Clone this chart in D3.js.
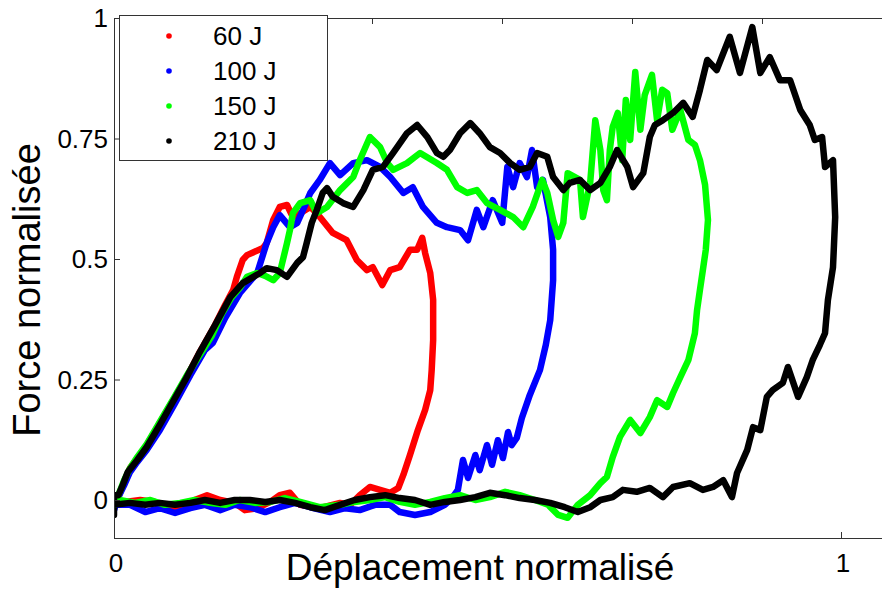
<!DOCTYPE html>
<html>
<head>
<meta charset="utf-8">
<script src="https://cdn.jsdelivr.net/npm/d3@7"></script>
<style>
  body { margin: 0; background: #fff; }
  svg { display: block; }
</style>
</head>
<body>
<div id="chart"></div>
<script>
// energies (legend)
const energies = ["60 J", "100 J", "150 J", "210 J"];
const colors = ["#ff0000", "#0000ff", "#00ff00", "#000000"];

// normalised displacement / force
const dep60 = [0,.006,.014,.022,.032,.045,.063,.084,.098,.118,.139,.153,.164,.169,.177,.183,.205,.210,.219,.228,.238,.246,.256,.270,.279,.301,.320,.334,.348,.356,.369,.380,.393,.407,.417,.424,.428,.435,.439,.439,.437,.435,.428,.418,.407,.398,.391,.380,.366,.352,.338,.325,.311,.283,.256,.242,.228,.215,.197,.180,.166,.146,.128,.111,.091,.070,.056,.036,.015,0];
const force60 = [-.010,.006,.037,.066,.087,.114,.160,.214,.249,.307,.363,.405,.436,.463,.498,.508,.523,.533,.581,.608,.612,.587,.595,.608,.595,.554,.539,.498,.477,.483,.446,.477,.483,.519,.519,.544,.512,.471,.415,.332,.270,.228,.187,.145,.093,.052,.025,.015,.021,.027,.010,-.010,-.006,-.017,-.010,.015,.010,-.004,-.017,-.021,-.006,0,.010,0,-.017,-.015,-.004,0,-.004,0];

const dep100 = [0,.006,.014,.022,.032,.045,.063,.084,.105,.125,.136,.153,.173,.197,.210,.219,.228,.242,.252,.260,.270,.283,.297,.311,.329,.348,.366,.380,.398,.411,.425,.444,.458,.476,.487,.499,.508,.521,.534,.541,.549,.558,.568,.575,.582,.590,.600,.604,.604,.600,.594,.586,.572,.561,.554,.547,.542,.535,.528,.520,.513,.503,.497,.487,.480,.473,.465,.455,.435,.414,.393,.380,.359,.338,.318,.297,.270,.249,.228,.208,.187,.166,.146,.125,.105,.084,.063,.043,.022,0];
const force100 = [-.021,.006,.031,.058,.079,.104,.145,.201,.259,.311,.326,.378,.429,.471,.533,.566,.591,.566,.575,.602,.637,.664,.699,.674,.699,.705,.691,.670,.637,.649,.608,.575,.566,.560,.539,.602,.566,.622,.575,.691,.649,.699,.670,.726,.649,.664,.587,.519,.456,.373,.322,.270,.218,.170,.129,.114,.141,.087,.124,.073,.114,.062,.093,.046,.083,.021,.004,-.010,-.025,-.031,-.025,-.010,-.010,-.021,-.017,-.025,-.015,-.006,-.015,-.025,-.015,-.010,-.021,-.010,-.017,-.027,-.017,-.025,-.010,-.010];

const dep150 = [0,.006,.014,.022,.032,.045,.063,.084,.102,.118,.135,.149,.162,.173,.183,.197,.208,.219,.228,.238,.242,.246,.256,.270,.279,.293,.311,.329,.338,.352,.366,.376,.384,.403,.421,.444,.458,.472,.486,.499,.513,.531,.549,.563,.576,.589,.596,.604,.611,.618,.624,.641,.645,.655,.662,.669,.673,.678,.682,.686,.693,.699,.704,.710,.717,.724,.730,.740,.747,.754,.761,.768,.779,.790,.799,.806,.813,.817,.814,.810,.806,.802,.799,.790,.779,.769,.761,.747,.737,.724,.710,.696,.686,.678,.669,.655,.638,.624,.611,.597,.579,.558,.538,.517,.497,.476,.455,.435,.414,.393,.373,.352,.331,.311,.283,.256,.235,.215,.194,.173,.153,.132,.111,.091,.070,.050,.029,.008,0];
const force150 = [-.010,.010,.041,.066,.089,.116,.162,.216,.263,.301,.342,.388,.421,.440,.463,.471,.465,.456,.471,.533,.560,.595,.616,.622,.595,.608,.643,.670,.705,.753,.732,.699,.685,.699,.720,.699,.685,.649,.637,.643,.616,.602,.587,.566,.608,.664,.637,.581,.546,.575,.678,.664,.587,.658,.788,.726,.643,.622,.726,.774,.803,.705,.830,.747,.888,.768,.840,.882,.788,.851,.844,.768,.809,.747,.737,.705,.654,.581,.519,.477,.436,.394,.346,.290,.255,.222,.193,.207,.172,.139,.166,.131,.089,.048,.035,.010,-.010,-.037,-.031,-.010,0,.010,.017,.006,0,.010,.004,-.004,-.010,-.004,.006,0,-.004,-.010,-.015,-.004,.004,-.004,-.006,0,-.010,-.006,0,-.006,-.010,0,-.006,0,0];

const dep210 = [0,0,.006,.012,.019,.032,.045,.063,.084,.098,.118,.139,.160,.177,.201,.210,.224,.238,.252,.260,.265,.272,.279,.287,.293,.301,.315,.329,.343,.356,.370,.384,.403,.417,.431,.444,.453,.462,.476,.490,.503,.517,.531,.545,.558,.572,.582,.596,.604,.618,.627,.641,.655,.669,.682,.692,.706,.714,.728,.737,.744,.755,.769,.783,.796,.806,.816,.829,.847,.861,.878,.889,.902,.916,.930,.944,.957,.964,.974,.978,.989,.992,.989,.982,.978,.971,.961,.953,.941,.927,.920,.906,.898,.889,.879,.871,.857,.850,.838,.824,.810,.792,.769,.755,.737,.719,.700,.686,.669,.655,.638,.620,.600,.579,.558,.538,.517,.497,.476,.455,.435,.414,.393,.373,.352,.331,.311,.290,.270,.249,.228,.208,.187,.166,.146,.125,.105,.084,.063,.043,.022,0];
const force210 = [-.031,.010,.010,.031,.058,.083,.110,.156,.212,.249,.307,.363,.421,.450,.471,.481,.477,.463,.492,.504,.533,.575,.602,.637,.647,.629,.616,.608,.643,.685,.691,.720,.761,.778,.753,.720,.712,.726,.761,.782,.761,.732,.720,.699,.685,.691,.720,.712,.670,.643,.658,.664,.643,.658,.691,.726,.691,.649,.678,.753,.778,.788,.803,.824,.795,.851,.913,.892,.961,.886,.981,.886,.919,.871,.871,.809,.778,.747,.753,.691,.705,.587,.483,.415,.346,.322,.290,.255,.214,.276,.243,.228,.214,.145,.151,.104,.056,.006,.041,.027,.021,.035,.027,.006,.025,.017,.021,.006,0,-.015,-.025,-.015,-.006,0,.004,.010,.015,.006,0,-.004,-.010,0,.004,.010,.006,0,-.010,-.021,-.015,-.006,0,-.004,0,0,-.006,0,-.006,-.010,-.006,-.010,-.006,-.010];

const seriesDep = [dep60, dep100, dep150, dep210];
const seriesForce = [force60, force100, force150, force210];

const yTicks = [0, 0.25, 0.5, 0.75, 1];
const yTickLabels = ["0", "0.25", "0.5", "0.75", "1"];
const xTicks = [0, 1];
const xTickLabels = ["0", "1"];
const topTicks = [0.2, 0.4, 0.6, 0.8, 1];

const width = 882, height = 589;
const plotLeft = 114, plotRight = 881, plotTop = 18, plotBottom = 538;
const font = "'Liberation Sans', Arial, sans-serif";

const x = d3.scaleLinear().domain([0, 1]).range([plotLeft, 841]);
const xTop = d3.scaleLinear().domain([0, 1]).range([112, 762]);
const y = d3.scaleLinear().domain([0, 1]).range([500, plotTop]);

const svg = d3.select("#chart").append("svg")
    .attr("width", width)
    .attr("height", height);

svg.append("clipPath").attr("id", "plot-clip")
    .append("rect")
    .attr("x", plotLeft).attr("y", plotTop)
    .attr("width", plotRight - plotLeft).attr("height", plotBottom - plotTop);

// curves
const line = d3.line()
    .x(d => x(d[0]))
    .y(d => y(d[1]))
    .curve(d3.curveLinear);

const plot = svg.append("g").attr("clip-path", "url(#plot-clip)");
for (let i = 0; i < energies.length; i++) {
    let pts = d3.zip(seriesDep[i], seriesForce[i]);
    plot.append("path")
        .datum(pts)
        .attr("d", line)
        .attr("fill", "none")
        .attr("stroke", colors[i])
        .attr("stroke-width", 6.5)
        .attr("stroke-linejoin", "round")
        .attr("stroke-linecap", "round");
}

// box lines (top, left, bottom)
const axisColor = "#333";
svg.append("line").attr("x1", plotLeft).attr("x2", width).attr("y1", plotTop + 0.5).attr("y2", plotTop + 0.5)
    .attr("stroke", axisColor).attr("stroke-width", 1);
svg.append("line").attr("x1", plotLeft).attr("x2", width).attr("y1", plotBottom + 0.5).attr("y2", plotBottom + 0.5)
    .attr("stroke", axisColor).attr("stroke-width", 1);
svg.append("line").attr("x1", plotLeft + 0.5).attr("x2", plotLeft + 0.5).attr("y1", plotTop).attr("y2", plotBottom)
    .attr("stroke", axisColor).attr("stroke-width", 1);

// left ticks (inward)
const yAxis = d3.axisRight(y)
    .tickValues(yTicks)
    .tickSize(6)
    .tickFormat("");
svg.append("g")
    .attr("transform", `translate(${plotLeft},0)`)
    .call(yAxis)
    .call(g => g.select(".domain").remove())
    .call(g => g.selectAll(".tick line").attr("stroke", axisColor));

svg.selectAll(".ylab")
    .data(yTicks)
    .join("text")
    .attr("class", "ylab")
    .attr("x", 108)
    .attr("y", d => y(d))
    .attr("dy", "0.36em")
    .attr("text-anchor", "end")
    .style("font-family", font)
    .style("font-size", "26px")
    .text((d, i) => yTickLabels[i]);

// bottom ticks (inward)
const xAxis = d3.axisTop(x)
    .tickValues(xTicks)
    .tickSize(6)
    .tickFormat("");
svg.append("g")
    .attr("transform", `translate(0,${plotBottom})`)
    .call(xAxis)
    .call(g => g.select(".domain").remove())
    .call(g => g.selectAll(".tick line").attr("stroke", axisColor));

svg.selectAll(".xlab")
    .data(xTicks)
    .join("text")
    .attr("class", "xlab")
    .attr("x", d => x(d) + 2)
    .attr("y", 572)
    .attr("text-anchor", "middle")
    .style("font-family", font)
    .style("font-size", "26px")
    .text((d, i) => xTickLabels[i]);

// top ticks (inward)
const topAxis = d3.axisBottom(xTop)
    .tickValues(topTicks)
    .tickSize(6)
    .tickFormat("");
svg.append("g")
    .attr("transform", `translate(0,${plotTop})`)
    .call(topAxis)
    .call(g => g.select(".domain").remove())
    .call(g => g.selectAll(".tick line").attr("stroke", axisColor));

// axis titles
svg.append("text")
    .attr("x", 480)
    .attr("y", 580)
    .attr("text-anchor", "middle")
    .style("font-family", font)
    .style("font-size", "37px")
    .text("Déplacement normalisé");

svg.append("text")
    .attr("transform", "translate(40,290) rotate(-90)")
    .attr("text-anchor", "middle")
    .style("font-family", font)
    .style("font-size", "38px")
    .text("Force normalisée");

// legend
const legend = svg.append("g");
legend.append("rect")
    .attr("x", 119.5).attr("y", 15.5)
    .attr("width", 208).attr("height", 145)
    .attr("fill", "#fff")
    .attr("stroke", axisColor)
    .attr("stroke-width", 1);

const legendY = d3.scalePoint().domain(energies).range([36, 141]);
legend.selectAll("circle")
    .data(energies)
    .join("circle")
    .attr("cx", 169)
    .attr("cy", d => legendY(d))
    .attr("r", 2.8)
    .attr("fill", (d, i) => colors[i]);

legend.selectAll("text")
    .data(energies)
    .join("text")
    .attr("x", 213)
    .attr("y", d => legendY(d))
    .attr("dy", "0.36em")
    .style("font-family", font)
    .style("font-size", "26px")
    .text(d => d);
</script>
</body>
</html>
